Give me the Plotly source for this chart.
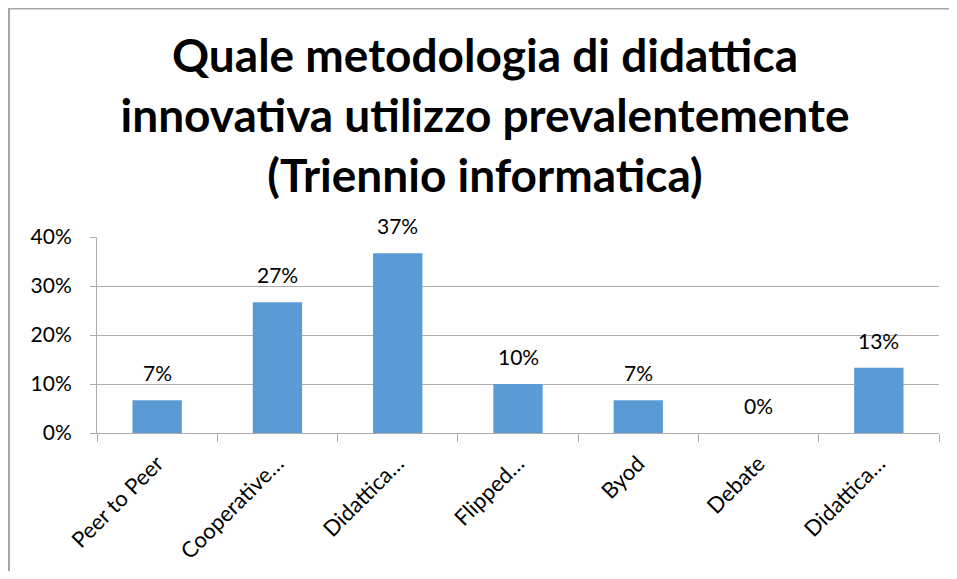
import plotly.graph_objects as go

labels = ['Peer to Peer', 'Cooperative…', 'Didattica…', 'Flipped…', 'Byod', 'Debate', 'Didattica…']
counts = [2, 8, 11, 3, 2, 0, 4]
total = 30
shares = [c / total for c in counts]
y_ticks = [0, 0.1, 0.2, 0.3, 0.4]

BAR_COLOR = '#5b9bd5'
GRID = '#adadad'
FONT = 'Lato'

# the page has an 8px body margin, so the figure is drawn 8px in from the corner
W, H = 941, 563
L, R, T, B = 89, 10, 229, 138
PW, PH = W - L - R, H - T - B


def px(fx):
    return (fx - L) / PW


def py(fy):
    return (H - B - fy) / PH


xs = list(range(len(labels)))

fig = go.Figure()
fig.add_trace(go.Bar(
    x=xs, y=shares,
    marker=dict(color=BAR_COLOR, line=dict(width=0)),
    width=0.41,
    showlegend=False,
    hoverinfo='skip',
))

# value labels above the bars
for x, v in zip(xs, shares):
    fig.add_annotation(
        x=x, y=v, text='{:.0%}'.format(v), showarrow=False,
        yanchor='bottom', yshift=13,
        font=dict(family=FONT, size=21, color='black'),
    )

# chart frame (only top and left edges show)
fig.add_shape(type='line', xref='paper', yref='paper',
              x0=px(0), x1=px(W + 5), y0=py(0.5), y1=py(0.5),
              line=dict(color='#a6a6a6', width=2))
fig.add_shape(type='line', xref='paper', yref='paper',
              x0=px(1), x1=px(1), y0=py(0), y1=py(H + 5),
              line=dict(color='#a6a6a6', width=2))

fig.update_xaxes(
    range=[-0.5, len(labels) - 0.5],
    tickmode='array', tickvals=xs, ticktext=labels,
    tickangle=-45, ticks='', ticklabelstandoff=8,
    tickfont=dict(family=FONT, size=22, color='black'),
    showgrid=False, zeroline=False, automargin=False,
    showline=True, linecolor=GRID, linewidth=1,
    minor=dict(tickmode='array', tickvals=[i - 0.5 for i in range(len(labels) + 1)],
               ticks='outside', ticklen=8, tickcolor=GRID, showgrid=False),
)
fig.update_yaxes(
    range=[0, 0.4],
    tickmode='array', tickvals=y_ticks, tickformat='.0%',
    ticks='outside', ticklen=6, tickcolor=GRID,
    ticklabelstandoff=14, automargin=False,
    tickfont=dict(family=FONT, size=21, color='black'),
    showgrid=True, gridcolor=GRID, gridwidth=1,
    zeroline=False,
    showline=True, linecolor=GRID, linewidth=1,
)

fig.update_layout(
    width=W, height=H,
    margin=dict(l=L, r=R, t=T, b=B),
    paper_bgcolor='white', plot_bgcolor='white',
    title=dict(
        text='Quale metodologia di didattica<br>innovativa utilizzo prevalentemente<br>(Triennio informatica)',
        x=477 / W, xanchor='center', xref='container',
        y=1 - 64 / H, yanchor='top', yref='container',
        font=dict(family=FONT, size=46, color='black', weight='bold'),
    ),
)

fig.write_html('out.html')
